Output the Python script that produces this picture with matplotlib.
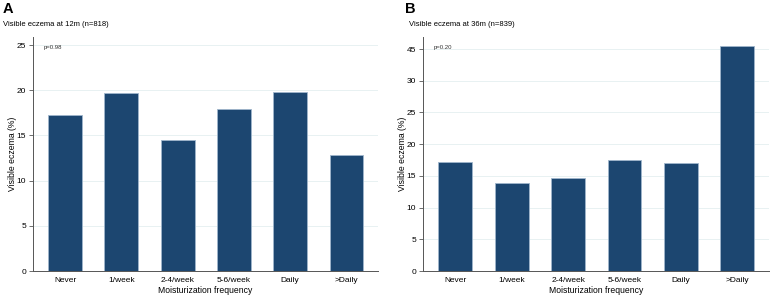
import numpy as np
import matplotlib
matplotlib.use("Agg")
import matplotlib.pyplot as plt

plt.rcParams['font.family'] = ['Liberation Sans', 'DejaVu Sans']

categories = ['Never', '1/week', '2-4/week', '5-6/week', 'Daily', '>Daily']
eczema_12m = [17.25, 19.75, 14.5, 17.9, 19.8, 12.85]
eczema_36m = [17.2, 13.9, 14.6, 17.5, 17.0, 45.5]

# panel B axis is compressed above 30 (35 on the axis is labelled 45)
break_at = 30
break_gap = 10

bar_color = '#1c4670'
edge_color = '#9fb6cc'
grid_color = '#e8f1f2'


def draw_panel(ax, values, yticks, yticklabels, ylim, pval):
    x = np.arange(len(categories))
    ax.bar(x, values, width=0.6, color=bar_color, edgecolor=edge_color,
           linewidth=0.6, zorder=3)
    ax.set_xlim(-0.57, len(categories) - 1 + 0.56)
    ax.set_ylim(*ylim)
    ax.set_xticks(x)
    ax.set_xticklabels(categories, fontsize=6)
    ax.set_yticks(yticks)
    ax.set_yticklabels(yticklabels, fontsize=6)
    for t in yticks[1:]:
        ax.axhline(t, color=grid_color, linewidth=0.7, zorder=1)
    ax.tick_params(axis='x', length=0, pad=4)
    ax.tick_params(axis='y', length=3, width=0.6, color='#555555', pad=2)
    for s in ['top', 'right']:
        ax.spines[s].set_visible(False)
    for s in ['left', 'bottom']:
        ax.spines[s].set_color('#555555')
        ax.spines[s].set_linewidth(0.7)
    ax.set_xlabel('Moisturization frequency', fontsize=6.2, labelpad=2)
    ax.set_ylabel('Visible eczema (%)', fontsize=6.2, labelpad=0)
    ax.text(0.03, 0.957, pval, transform=ax.transAxes, fontsize=4.3,
            ha='left', va='center', color='#333333')


fig = plt.figure(figsize=(7.77, 3.03), dpi=100)
ax1 = fig.add_axes([33 / 777, 1 - 271 / 303, 345 / 777, 234 / 303])
ax2 = fig.add_axes([423 / 777, 1 - 271 / 303, 346 / 777, 234 / 303])

draw_panel(ax1, eczema_12m, [0, 5, 10, 15, 20, 25],
           ['0', '5', '10', '15', '20', '25'], (0, 25.9), 'p=0.98')

vals_b = [v if v <= break_at else v - break_gap for v in eczema_36m]
draw_panel(ax2, vals_b, [0, 5, 10, 15, 20, 25, 30, 35],
           ['0', '5', '10', '15', '20', '25', '30', '45'], (0, 36.9), 'p=0.20')

fig.text(3 / 777, 1 - 9 / 303, 'A', fontsize=10.5, fontweight='bold',
         ha='left', va='center')
fig.text(3 / 777, 1 - 24 / 303, 'Visible eczema at 12m (n=818)',
         fontsize=5.5, ha='left', va='center')
fig.text(405 / 777, 1 - 9 / 303, 'B', fontsize=10.5, fontweight='bold',
         ha='left', va='center')
fig.text(409 / 777, 1 - 24 / 303, 'Visible eczema at 36m (n=839)',
         fontsize=5.5, ha='left', va='center')

fig.savefig('out.png', dpi=100, facecolor='white')
